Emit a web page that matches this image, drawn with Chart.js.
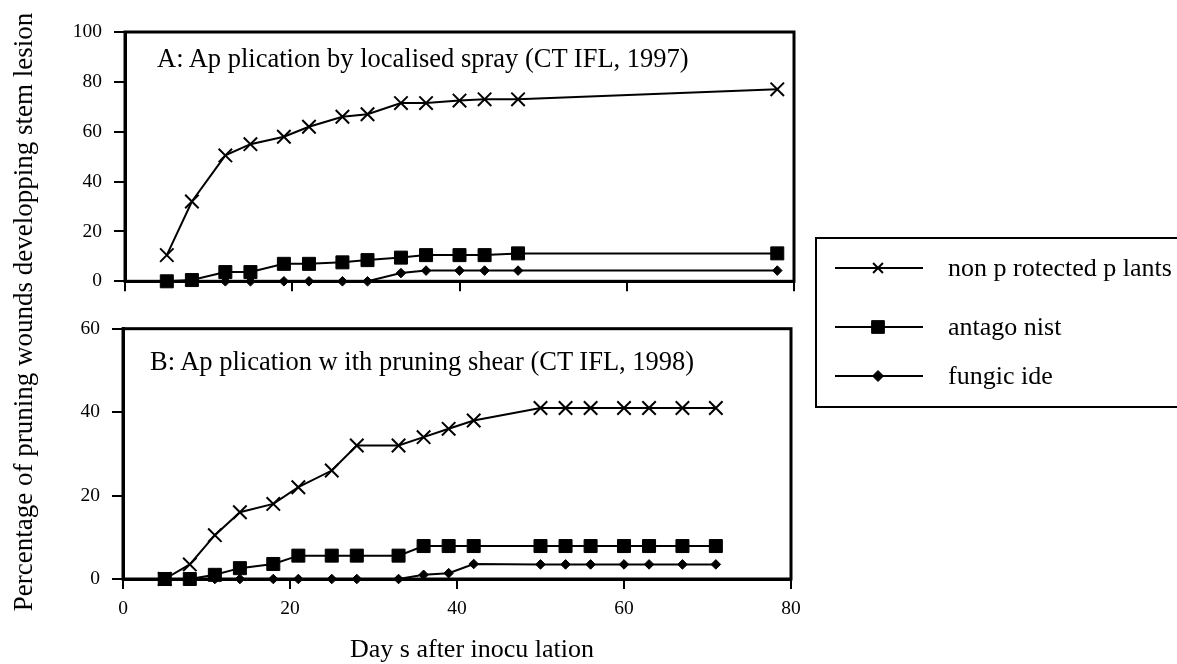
<!DOCTYPE html>
<html>
<head>
<meta charset="utf-8">
<script src="https://cdn.jsdelivr.net/npm/chart.js@4.4.1/dist/chart.umd.min.js"></script>
<style>
  body { margin: 0; background: #fff; width: 1177px; height: 664px; overflow: hidden; position: relative;
         font-family: "Liberation Serif", "Times New Roman", serif; color: #000; }
  canvas.chart { position: absolute; left: 0; }
  #chartA { top: 0; }
  #chartB { top: 305px; }
  .txt { position: absolute; white-space: nowrap; font-size: 26px; line-height: 1; }
  .panelTitle { font-size: 26.5px; }
  #yTitle { position: absolute; left: -297px; top: 297px; width: 640px; height: 30px; line-height: 30px; font-size: 27px;
            text-align: center; white-space: nowrap; transform: rotate(-90deg); }
  #legend { position: absolute; left: 815px; top: 237px; width: 400px; height: 167px; border: 2px solid #000; }
  #legend .row { position: absolute; left: 18px; height: 30px; display: flex; align-items: center; font-size: 26px; white-space: nowrap; }
  #legend .row span { margin-left: 25px; }
</style>
</head>
<body>
<canvas id="chartA" class="chart" width="820" height="305"></canvas>
<canvas id="chartB" class="chart" width="820" height="359"></canvas>
<div class="txt panelTitle" style="left:157px; top:45px;">A: Ap plication by localised spray (CT IFL, 1997)</div>
<div class="txt panelTitle" style="left:150px; top:348px;">B: Ap plication w ith pruning shear (CT IFL, 1998)</div>
<div id="yTitle">Percentage of pruning wounds developping stem lesion</div>
<div class="txt" style="left:350px; top:636px;">Day s after inocu lation</div>
<div id="legend"></div>

<script>
// Panel A: localised spray (1997)
const daysA = [5, 8, 12, 15, 19, 22, 26, 29, 33, 36, 40, 43, 47, 78];
const nonProtectedA = [10.5, 32, 50.5, 55, 58, 62, 66, 67, 71.5, 71.5, 72.5, 73, 73, 77];
const antagonistA = [0, 0.5, 3.7, 3.7, 7, 7, 7.6, 8.5, 9.5, 10.5, 10.5, 10.5, 11.2, 11.2];
const fungicideA = [0, 0, 0, 0, 0, 0, 0, 0, 3.3, 4.3, 4.3, 4.3, 4.3, 4.3];

// Panel B: pruning shear (1998)
const daysB = [5, 8, 11, 14, 18, 21, 25, 28, 33, 36, 39, 42, 50, 53, 56, 60, 63, 67, 71];
const nonProtectedB = [0, 3.5, 10.5, 16, 18, 22, 26, 32, 32, 34, 36, 38, 41, 41, 41, 41, 41, 41, 41];
const antagonistB = [0, 0, 1, 2.6, 3.6, 5.6, 5.6, 5.6, 5.6, 7.9, 7.9, 7.9, 7.9, 7.9, 7.9, 7.9, 7.9, 7.9, 7.9];
const fungicideB = [0, 0, 0, 0, 0, 0, 0, 0, 0, 1, 1.4, 3.6, 3.5, 3.5, 3.5, 3.5, 3.5, 3.5, 3.5];

const seriesNames = ['non p rotected p lants', 'antago nist', 'fungic ide'];
const xTicks = [0, 20, 40, 60, 80];
const yTicksA = [0, 20, 40, 60, 80, 100];
const yTicksB = [0, 20, 40, 60];

const markers = [
  { pointStyle: 'crossRot', radius: 9.5, borderWidth: 2, legendRadius: 7 },
  { pointStyle: 'rect', radius: 9.2, borderWidth: 1, legendRadius: 9 },
  { pointStyle: 'rectRot', radius: 4.8, borderWidth: 1, legendRadius: 5.5 }
];

const toPoints = (xs, ys) => xs.map((x, i) => ({ x: x, y: ys[i] }));

function makeDatasets(days, lists) {
  return lists.map((vals, i) => ({
    label: seriesNames[i],
    data: toPoints(days, vals),
    borderColor: '#000',
    backgroundColor: '#000',
    borderWidth: 2,
    pointStyle: markers[i].pointStyle,
    pointRadius: markers[i].radius,
    pointBorderWidth: markers[i].borderWidth,
    pointBackgroundColor: '#000',
    pointBorderColor: '#000',
    tension: 0,
    clip: false
  }));
}

// box around the plot area
const framePlugin = {
  id: 'frame',
  beforeDatasetsDraw(chart) {
    const { ctx, chartArea: a } = chart;
    ctx.save();
    ctx.strokeStyle = '#000';
    ctx.lineWidth = 3;
    ctx.strokeRect(a.left, a.top, a.right - a.left, a.bottom - a.top);
    ctx.restore();
  }
};

function makeOptions(yTicks, yWidth, xHeight, pad, showXLabels) {
  return {
    responsive: false,
    animation: false,
    layout: { padding: pad },
    plugins: { legend: { display: false }, tooltip: { enabled: false } },
    scales: {
      x: {
        type: 'linear', min: xTicks[0], max: xTicks[xTicks.length - 1],
        afterBuildTicks: (s) => { s.ticks = xTicks.map(v => ({ value: v })); },
        afterFit: (s) => { s.height = xHeight; },
        grid: { drawOnChartArea: false, drawTicks: true, tickLength: 10, color: '#000', lineWidth: 2 },
        border: { display: true, color: '#000', width: 3 },
        ticks: { display: showXLabels, color: '#000', padding: 8,
                 font: { family: '"Liberation Serif", serif', size: 19.5 } }
      },
      y: {
        min: yTicks[0], max: yTicks[yTicks.length - 1],
        afterBuildTicks: (s) => { s.ticks = yTicks.map(v => ({ value: v })); },
        afterFit: (s) => { s.width = yWidth; },
        grid: { drawOnChartArea: false, drawTicks: true, tickLength: 11, color: '#000', lineWidth: 2 },
        border: { display: true, color: '#000', width: 3 },
        ticks: { color: '#000', padding: 12,
                 font: { family: '"Liberation Serif", serif', size: 19.5 } }
      }
    }
  };
}

new Chart(document.getElementById('chartA'), {
  type: 'line',
  data: { datasets: makeDatasets(daysA, [nonProtectedA, antagonistA, fungicideA]) },
  options: makeOptions(yTicksA, 125, 17, { top: 32, right: 26, left: 0, bottom: 0 }, false),
  plugins: [framePlugin]
});

const chartB = new Chart(document.getElementById('chartB'), {
  type: 'line',
  data: { datasets: makeDatasets(daysB, [nonProtectedB, antagonistB, fungicideB]) },
  options: makeOptions(yTicksB, 123, 85, { top: 22, right: 29, left: 0, bottom: 0 }, true),
  plugins: [framePlugin]
});

// Legend built from chart B's datasets
const legend = document.getElementById('legend');
const rowTops = [14, 73, 122];
chartB.data.datasets.forEach((ds, i) => {
  const row = document.createElement('div');
  row.className = 'row';
  row.style.top = rowTops[i] + 'px';
  const c = document.createElement('canvas');
  c.width = 88; c.height = 30;
  const ctx = c.getContext('2d');
  ctx.strokeStyle = '#000';
  ctx.fillStyle = '#000';
  ctx.lineWidth = 2;
  ctx.beginPath();
  ctx.moveTo(0, 15);
  ctx.lineTo(88, 15);
  ctx.stroke();
  ctx.lineWidth = markers[i].borderWidth;
  Chart.helpers.drawPoint(ctx, {
    pointStyle: ds.pointStyle, rotation: 0,
    radius: markers[i].legendRadius, borderWidth: markers[i].borderWidth
  }, 43, 15);
  const label = document.createElement('span');
  label.textContent = ds.label;
  row.appendChild(c);
  row.appendChild(label);
  legend.appendChild(row);
});
</script>
</body>
</html>
